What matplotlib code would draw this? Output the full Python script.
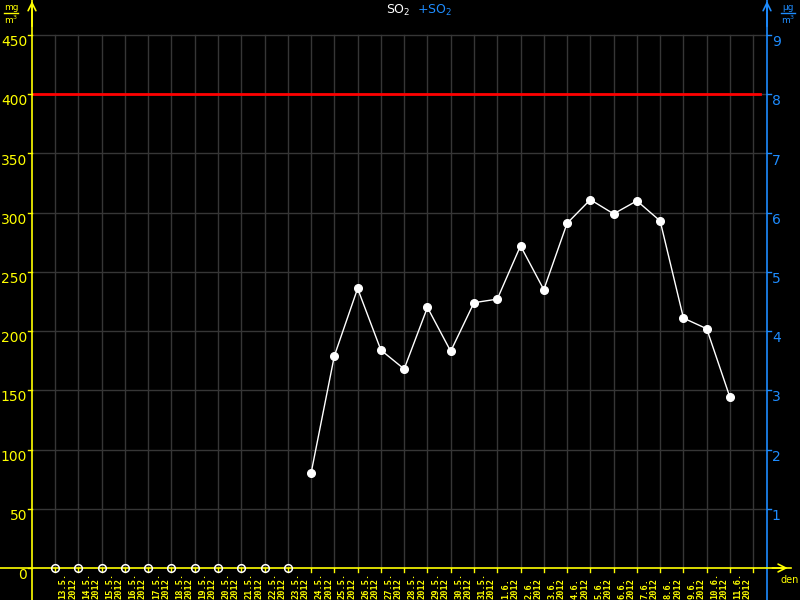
import matplotlib
matplotlib.use("Agg")
import matplotlib.pyplot as plt
import numpy as np

# days on the x axis (13.5.2012 .. 11.6.2012)
days = ["13.5.", "14.5.", "15.5.", "16.5.", "17.5.", "18.5.", "19.5.", "20.5.",
        "21.5.", "22.5.", "23.5.", "24.5.", "25.5.", "26.5.", "27.5.", "28.5.",
        "29.5.", "30.5.", "31.5.", "1.6.", "2.6.", "3.6.", "4.6.", "5.6.",
        "6.6.", "7.6.", "8.6.", "9.6.", "10.6.", "11.6."]
year = "2012"
# SO2 daily values, ug/m3 (left axis scale)
so2 = [0, 0, 0, 0, 0, 0, 0, 0, 0, 0, 0,
       80, 179, 236, 184, 168, 220, 183, 224, 227, 272, 235,
       291, 311, 299, 310, 293, 211, 202, 144]
limit = 400
left_ticks = [0, 50, 100, 150, 200, 250, 300, 350, 400, 450]
right_ticks = [1, 2, 3, 4, 5, 6, 7, 8, 9]

YEL = "#ffff00"
BLUE = "#1e8cff"
GRID = "#363636"

fig = plt.figure(figsize=(8, 6), dpi=100, facecolor="black")
ax = fig.add_axes([32 / 800, 32 / 600, 735 / 800, 568 / 600])
ax.set_facecolor("black")
ax.set_xlim(-0.99, 30.59)
ax.set_ylim(0, 479.55)
for s in ax.spines.values():
    s.set_visible(False)
ax.set_xticks([])
ax.set_yticks([])

x = np.arange(len(days))
xmax = 30

# grid
for yv in left_ticks[1:]:
    ax.plot([-0.99, 30.59], [yv, yv], color=GRID, lw=1, zorder=1)
for xi in range(0, xmax + 1):
    ax.plot([xi, xi], [0, 450], color=GRID, lw=1, zorder=1)

# limit line
ax.plot([-0.99, 30.3], [limit, limit], color="#ff0000", lw=2, zorder=2)

# axes lines
kw = dict(clip_on=False, zorder=5)
ax.plot([-0.99, -0.99], [-27, 479.55], color=YEL, lw=1.2, **kw)
ax.plot([30.59, 30.59], [-27, 479.55], color=BLUE, lw=1.2, **kw)
ax.plot([-2.4, 31.6], [0, 0], color=YEL, lw=1.2, **kw)
ax.annotate("", xy=(-0.99, 481), xytext=(-0.99, 455),
            arrowprops=dict(arrowstyle="->", color=YEL, lw=1.2, mutation_scale=14), annotation_clip=False)
ax.annotate("", xy=(30.59, 481), xytext=(30.59, 455),
            arrowprops=dict(arrowstyle="->", color=BLUE, lw=1.2, mutation_scale=14), annotation_clip=False)
ax.annotate("", xy=(31.6, 0), xytext=(30.7, 0),
            arrowprops=dict(arrowstyle="->", color=YEL, lw=1.2, mutation_scale=14), annotation_clip=False)

# ticks
for yv in left_ticks:
    ax.plot([-1.16, -0.99], [yv, yv], color=YEL, lw=1, **kw)
    ax.text(-1.2, yv - 6, str(yv), color=YEL, fontsize=10, ha="right", va="center")
for yv in right_ticks:
    v = yv * 50
    ax.plot([30.59, 30.76], [v, v], color=BLUE, lw=1, **kw)
    ax.text(30.8, v - 6, str(yv), color=BLUE, fontsize=10, ha="left", va="center")
for xi in range(0, xmax + 1):
    ax.plot([xi, xi], [0, -3.5], color=YEL, lw=1, **kw)
for xi, d in zip(x, days):
    ax.text(xi + 0.55, -26.5, d + "\n" + year, color=YEL, fontsize=6.2, rotation=90,
            ha="center", va="bottom", linespacing=1.05, fontweight="bold",
            multialignment="left", family="DejaVu Sans Mono", clip_on=False)

# data
vals = np.array(so2, dtype=float)
zero = vals == 0
ax.plot(x[zero], vals[zero], "o", ms=5.5, mfc="none", mec="white", mew=1.1, zorder=6, clip_on=False)
ax.plot(x[~zero], vals[~zero], "-o", color="white", lw=1, ms=5.5, zorder=6)

# titles and units
fig.text(398 / 800, 1 - 10 / 600, "SO$_2$", color="white", fontsize=9, ha="center", va="center")
fig.text(434 / 800, 1 - 10 / 600, "+SO$_2$", color=BLUE, fontsize=9, ha="center", va="center")
fig.text(11 / 800, 1 - 7 / 600, "mg", color=YEL, fontsize=6.5, ha="center", va="center")
fig.add_artist(plt.Line2D([4 / 800, 18 / 800], [1 - 13 / 600, 1 - 13 / 600], color=YEL, lw=1))
fig.text(11 / 800, 1 - 20 / 600, "m$^3$", color=YEL, fontsize=6.5, ha="center", va="center")
fig.text(788 / 800, 1 - 7 / 600, "\u00b5g", color=BLUE, fontsize=6.5, ha="center", va="center")
fig.add_artist(plt.Line2D([781 / 800, 795 / 800], [1 - 13 / 600, 1 - 13 / 600], color=BLUE, lw=1))
fig.text(788 / 800, 1 - 20 / 600, "m$^3$", color=BLUE, fontsize=6.5, ha="center", va="center")
fig.text(790 / 800, 1 - 580 / 600, "den", color=YEL, fontsize=7, ha="center", va="center")

fig.savefig("out.png", dpi=100, facecolor="black")
